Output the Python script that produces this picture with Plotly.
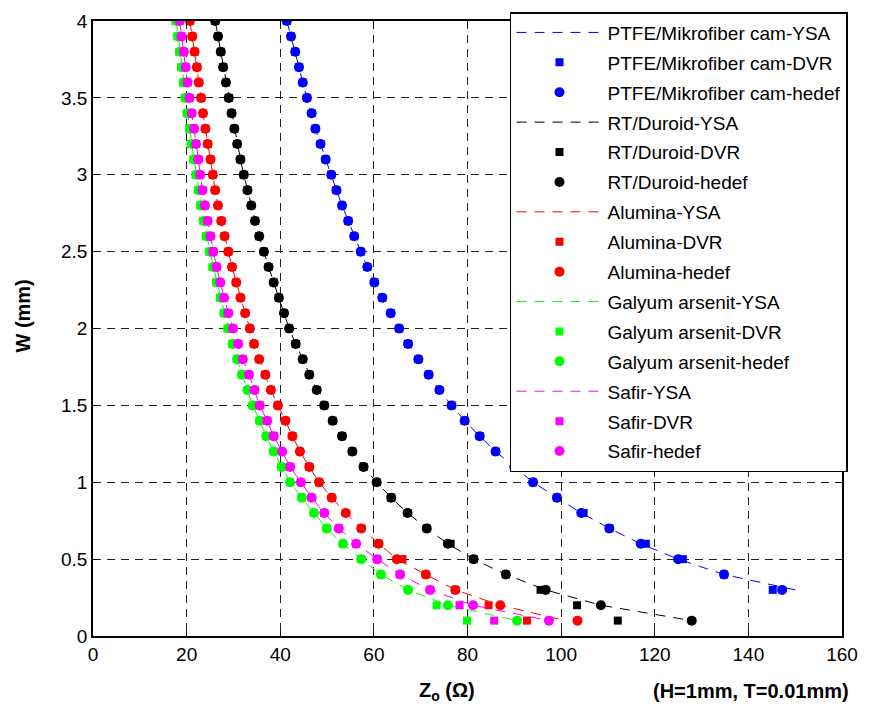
import plotly.graph_objects as go

# W values (mm), from 4.0 down to 0.1
W = [4.0, 3.9, 3.8, 3.7, 3.6, 3.5, 3.4, 3.3, 3.2, 3.1,
     3.0, 2.9, 2.8, 2.7, 2.6, 2.5, 2.4, 2.3, 2.2, 2.1,
     2.0, 1.9, 1.8, 1.7, 1.6, 1.5, 1.4, 1.3, 1.2, 1.1,
     1.0, 0.9, 0.8, 0.7, 0.6, 0.5, 0.4, 0.3, 0.2, 0.1]
W_ptfe = [4.0, 3.9, 3.8, 3.7, 3.6, 3.5, 3.4, 3.3, 3.2, 3.1,
          3.0, 2.9, 2.8, 2.7, 2.6, 2.5, 2.4, 2.3, 2.2, 2.1,
          2.0, 1.9, 1.8, 1.7, 1.6, 1.5, 1.4, 1.3, 1.2, 1.1,
          1.0, 0.9, 0.8, 0.7, 0.6, 0.5, 0.4, 0.3]

# PTFE/Mikrofiber cam
ptfe_hedef = [41.4, 42.3, 43.2, 44.0, 44.8, 45.7, 46.7, 47.5, 48.6, 49.7,
              50.9, 52.0, 53.2, 54.5, 55.8, 57.2, 58.6, 60.1, 61.8, 63.6,
              65.4, 67.3, 69.5, 71.7, 74.0, 76.6, 79.4, 82.6, 86.0, 90.0,
              94.0, 99.1, 104.3, 110.3, 117.0, 125.0, 134.8, 147.2]
ptfe_dvr = [41.4, 42.3, 43.2, 44.0, 44.8, 45.7, 46.7, 47.5, 48.6, 49.7,
            50.9, 52.0, 53.2, 54.5, 55.8, 57.2, 58.6, 60.1, 61.8, 63.6,
            65.4, 67.3, 69.5, 71.7, 74.0, 76.6, 79.4, 82.6, 86.0, 90.0,
            94.0, 99.1, 104.8, 110.3, 118.1, 126.0, 134.8, 145.2]
ptfe_ysa = [41.4, 42.3, 43.2, 44.0, 44.8, 45.7, 46.7, 47.5, 48.6, 49.7,
            50.9, 52.0, 53.2, 54.5, 55.8, 57.2, 58.6, 60.1, 61.8, 63.6,
            65.4, 67.3, 69.5, 71.7, 74.0, 76.6, 79.4, 82.6, 86.0, 90.0,
            94.0, 99.1, 104.3, 110.3, 117.0, 125.0, 134.8, 150.0]

# RT/Duroid
rt_hedef = [26.1, 26.7, 27.3, 27.8, 28.4, 29.0, 29.6, 30.2, 30.8, 31.5,
            32.2, 33.0, 33.8, 34.6, 35.5, 36.5, 37.5, 38.6, 39.7, 40.8,
            41.9, 43.3, 44.8, 46.2, 47.8, 49.4, 51.2, 53.2, 55.4, 57.8,
            60.6, 63.7, 67.2, 71.3, 75.8, 81.3, 88.2, 96.7, 108.5, 127.9]
rt_dvr = [26.1, 26.7, 27.3, 27.8, 28.4, 29.0, 29.6, 30.2, 30.8, 31.5,
          32.2, 33.0, 33.8, 34.6, 35.5, 36.5, 37.5, 38.6, 39.7, 40.8,
          41.9, 43.3, 44.8, 46.2, 47.8, 49.4, 51.2, 53.2, 55.4, 57.8,
          60.6, 63.7, 67.2, 71.3, 76.4, 81.3, 88.2, 95.6, 103.4, 112.1]
rt_ysa = [26.1, 26.7, 27.3, 27.8, 28.4, 29.0, 29.6, 30.2, 30.8, 31.5,
          32.2, 33.0, 33.8, 34.6, 35.5, 36.5, 37.5, 38.6, 39.7, 40.8,
          41.9, 43.3, 44.8, 46.2, 47.8, 49.4, 51.2, 53.2, 55.4, 57.8,
          60.6, 63.7, 67.2, 71.3, 75.8, 81.3, 88.2, 96.7, 108.5, 127.9]

# Alumina
alu_hedef = [20.7, 21.2, 21.7, 22.2, 22.6, 23.1, 23.5, 24.0, 24.5, 25.1,
             25.6, 26.1, 26.7, 27.4, 28.1, 28.9, 29.7, 30.6, 31.5, 32.5,
             33.5, 34.4, 35.5, 36.8, 38.0, 39.5, 41.1, 42.6, 44.2, 46.2,
             48.3, 51.0, 54.0, 57.3, 61.0, 64.9, 71.1, 77.4, 87.0, 103.5]
alu_dvr = [20.7, 21.2, 21.7, 22.2, 22.6, 23.1, 23.5, 24.0, 24.5, 25.1,
           25.6, 26.1, 26.7, 27.4, 28.1, 28.9, 29.7, 30.6, 31.5, 32.5,
           33.5, 34.4, 35.5, 36.8, 38.0, 39.5, 41.1, 42.6, 44.2, 46.2,
           48.3, 51.0, 54.0, 57.3, 61.0, 66.1, 71.1, 77.4, 84.5, 92.7]
alu_ysa = [20.7, 21.2, 21.7, 22.2, 22.6, 23.1, 23.5, 24.0, 24.5, 25.1,
           25.6, 26.1, 26.7, 27.4, 28.1, 28.9, 29.7, 30.6, 31.5, 32.5,
           33.5, 34.4, 35.5, 36.8, 38.0, 39.5, 41.1, 42.6, 44.2, 46.2,
           48.3, 51.0, 54.0, 57.3, 61.0, 64.9, 71.1, 77.4, 87.0, 101.0]

# Galyum arsenit
gaas_hedef = [17.8, 18.2, 18.6, 19.0, 19.4, 19.8, 20.2, 20.7, 21.1, 21.6,
              22.1, 22.6, 23.1, 23.7, 24.3, 25.0, 25.7, 26.5, 27.3, 28.1,
              28.9, 29.8, 30.8, 31.8, 33.0, 34.1, 35.6, 37.0, 38.6, 40.3,
              42.1, 44.6, 47.2, 49.9, 53.4, 57.3, 61.5, 67.3, 75.8, 90.6]
gaas_dvr = [17.6, 18.0, 18.4, 18.8, 19.2, 19.6, 20.0, 20.5, 20.9, 21.4,
            21.9, 22.4, 22.9, 23.5, 24.1, 24.8, 25.5, 26.3, 27.1, 27.9,
            28.7, 29.7, 30.7, 31.8, 33.0, 34.1, 35.6, 37.0, 38.6, 40.3,
            42.1, 44.6, 47.2, 49.9, 53.4, 57.3, 61.5, 67.3, 73.4, 79.9]
gaas_ysa = [17.8, 18.2, 18.6, 19.0, 19.4, 19.8, 20.2, 20.7, 21.1, 21.6,
            22.1, 22.6, 23.1, 23.7, 24.3, 25.0, 25.7, 26.5, 27.3, 28.1,
            28.9, 29.8, 30.8, 31.8, 33.0, 34.1, 35.6, 37.0, 38.6, 40.3,
            42.1, 44.6, 47.2, 49.9, 53.4, 57.3, 61.5, 67.3, 75.8, 90.6]

# Safir
saf_hedef = [18.5, 18.9, 19.4, 19.8, 20.2, 20.6, 21.1, 21.6, 22.0, 22.5,
             22.9, 23.4, 23.9, 24.5, 25.1, 25.7, 26.4, 27.2, 28.0, 28.9,
             29.9, 31.0, 32.0, 33.3, 34.5, 35.6, 37.2, 38.6, 40.4, 42.1,
             44.4, 46.7, 49.4, 52.5, 56.2, 60.7, 65.6, 72.0, 81.2, 97.4]
saf_dvr = [18.5, 18.9, 19.4, 19.8, 20.2, 20.6, 21.1, 21.6, 22.0, 22.5,
           22.9, 23.4, 23.9, 24.5, 25.1, 25.7, 26.4, 27.2, 28.0, 28.9,
           29.9, 31.0, 32.0, 33.3, 34.5, 35.6, 37.2, 38.6, 40.4, 42.1,
           44.4, 46.7, 49.4, 52.5, 56.2, 60.7, 65.6, 72.0, 78.3, 85.7]
saf_ysa = [18.5, 18.9, 19.4, 19.8, 20.2, 20.6, 21.1, 21.6, 22.0, 22.5,
           22.9, 23.4, 23.9, 24.5, 25.1, 25.7, 26.4, 27.2, 28.0, 28.9,
           29.9, 31.0, 32.0, 33.3, 34.5, 35.6, 37.2, 38.6, 40.4, 42.1,
           44.4, 46.7, 49.4, 52.5, 56.2, 60.7, 65.6, 72.0, 81.2, 97.4]

materials = [
    ("PTFE/Mikrofiber cam", "#0000FF", W_ptfe, ptfe_ysa, ptfe_dvr, ptfe_hedef),
    ("RT/Duroid", "#000000", W, rt_ysa, rt_dvr, rt_hedef),
    ("Alumina", "#FF0000", W, alu_ysa, alu_dvr, alu_hedef),
    ("Galyum arsenit", "#00FF00", W, gaas_ysa, gaas_dvr, gaas_hedef),
    ("Safir", "#FF00FF", W, saf_ysa, saf_dvr, saf_hedef),
]

fig = go.Figure()
for name, col, ws, ysa, dvr, hedef in materials:
    fig.add_trace(go.Scatter(
        x=ysa, y=ws, mode="lines", name=name + "-YSA", legendgroup=name + "1",
        line=dict(color=col, width=1, dash="10px,8px")))
    fig.add_trace(go.Scatter(
        x=dvr, y=ws, mode="markers", name=name + "-DVR", legendgroup=name + "2",
        marker=dict(color=col, symbol="square", size=8, line=dict(width=0))))
    fig.add_trace(go.Scatter(
        x=hedef, y=ws, mode="markers", name=name + "-hedef", legendgroup=name + "3",
        marker=dict(color=col, symbol="circle", size=10, line=dict(width=0))))

axis_common = dict(
    showgrid=True, gridcolor="#222222", gridwidth=1, griddash="8px,6px",
    showline=True, linecolor="black", linewidth=1.5, mirror="allticks",
    ticks="inside", ticklen=5, tickcolor="black", zeroline=False,
    tickfont=dict(size=19, color="black"),
)

fig.update_xaxes(range=[0, 160], dtick=20, tick0=0, **axis_common)
fig.update_yaxes(range=[0, 4], dtick=0.5, tick0=0, **axis_common)

fig.update_layout(
    width=869, height=722,
    margin=dict(l=93, r=27, t=13, b=86),
    plot_bgcolor="white", paper_bgcolor="white",
    font=dict(family="Liberation Sans, Arial, sans-serif", size=19, color="black"),
    legend=dict(
        x=1.008, y=1.0145, xanchor="right", yanchor="top",
        bgcolor="white", bordercolor="black", borderwidth=1.5,
        font=dict(size=19, color="black"),
        itemwidth=86, tracegroupgap=2.2, traceorder="grouped",
        maxheight=700,
    ),
    annotations=[
        dict(text="<b>Z<sub>o</sub> (Ω)</b>", xref="paper", yref="paper",
             x=0.472, y=-0.09, xanchor="center", yanchor="middle",
             showarrow=False, font=dict(size=20)),
        dict(text="<b>(H=1mm, T=0.01mm)</b>", xref="paper", yref="paper",
             x=0.879, y=-0.09, xanchor="center", yanchor="middle",
             showarrow=False, font=dict(size=20)),
        dict(text="<b>W (mm)</b>", xref="paper", yref="paper",
             x=-0.093, y=0.52, xanchor="center", yanchor="middle",
             textangle=-90, showarrow=False, font=dict(size=20)),
    ],
)

fig.write_html("out.html")
